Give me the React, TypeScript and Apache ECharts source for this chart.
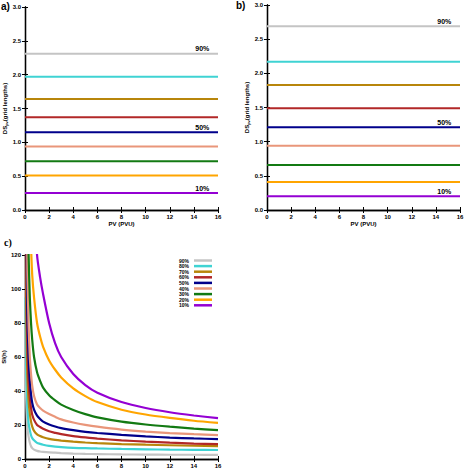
import React, { useEffect, useRef } from "react";
import * as echarts from "echarts";

const PCT = ["90%", "80%", "70%", "60%", "50%", "40%", "30%", "20%", "10%"];
const COLORS = ["#c4c4c4", "#3fd3d3", "#b8860b", "#b22828", "#00008b", "#e9967a", "#137a13", "#ffa500", "#9400d3"];

// panel a / b: constant DS per percentile
const DS_A = [2.31, 1.97, 1.64, 1.37, 1.15, 0.94, 0.72, 0.51, 0.25];
const DS_B = [2.69, 2.17, 1.83, 1.49, 1.21, 0.94, 0.66, 0.41, 0.2];
const PV_RANGE = [0, 16];
const LABELLED = ["90%", "50%", "10%"];

// panel c: SI(h) vs PV
const PV_C = [0.05, 0.1, 0.15, 0.2, 0.3, 0.4, 0.5, 0.6, 0.75, 1, 1.25, 1.5, 2, 2.5, 3, 4, 5, 6, 8, 10, 12, 14, 16];
const SI_90 = [60, 35, 24, 18, 13, 9.5, 7.5, 6.4, 5.5, 4.8, 4.4, 4.2, 3.9, 3.7, 3.5, 3.2, 3.0, 2.9, 2.7, 2.6, 2.5, 2.5, 2.4];
const SI_80 = [95, 55, 40, 30, 21, 17, 14, 12.3, 11, 9.5, 8.9, 8.4, 7.7, 7.3, 7.0, 6.6, 6.4, 6.2, 5.9, 5.7, 5.5, 5.4, 5.3];
const SI_70 = [160, 90, 64, 48, 34, 26.5, 22, 19, 16.5, 14.5, 13.5, 12.8, 11.8, 11.2, 10.8, 10.2, 9.7, 9.3, 8.8, 8.4, 8.1, 7.8, 7.6];
const SI_60 = [220, 120, 86, 65, 45, 36, 30, 26, 23, 20, 18.8, 17.8, 16.3, 15.4, 14.6, 13.5, 12.7, 12, 11, 10.2, 9.6, 9.1, 8.8];
const SI_50 = [300, 160, 115, 85, 60, 46, 38, 33, 29, 25.5, 23.5, 22, 20.3, 19.1, 18.2, 17, 16, 15.3, 14.2, 13.3, 12.6, 12.1, 11.7];
const SI_40 = [400, 220, 150, 110, 78, 60, 50, 43, 37, 32, 30, 28.5, 26.5, 24.8, 23.3, 21.5, 20.1, 19, 17.3, 16.1, 15.2, 14.6, 14.1];
const SI_30 = [700, 360, 240, 180, 120, 95, 80, 70, 60, 51, 46, 42, 37.5, 34.5, 32, 28.8, 26.4, 24.5, 22, 20.3, 19, 17.9, 17];
const SI_20 = [1100, 600, 400, 300, 200, 150, 125, 108, 95, 80, 72, 66, 58, 52.5, 48, 41.5, 37, 33.5, 29, 26.2, 24.2, 22.5, 21.2];
const SI_10 = [2000, 1200, 800, 600, 400, 300, 240, 200, 160, 120, 107, 97, 80, 68, 60, 50, 43.5, 39, 33.5, 30, 27.5, 25.6, 24];
const SI_ALL = [SI_90, SI_80, SI_70, SI_60, SI_50, SI_40, SI_30, SI_20, SI_10];

const X_TICKS_MAX = 16;

const tickFont = { fontSize: 6, fontWeight: "bold" as const, color: "#000", fontFamily: "Liberation Sans" };

function valueAxis(opts: any) {
  return {
    type: "value",
    axisLine: { show: true, lineStyle: { color: "#000", width: 1.3 } },
    axisTick: { show: true, inside: true, length: 3, lineStyle: { color: "#000", width: 1 } },
    splitLine: { show: false },
    ...opts,
  };
}

export default function App() {
  const ref = useRef<HTMLDivElement>(null);
  useEffect(() => {
    if (!ref.current) return;
    const chart = echarts.init(ref.current, undefined, { renderer: "svg" });

    const grids = [
      { left: 25, top: 7, width: 193, height: 203 },
      { left: 267, top: 5, width: 193, height: 205 },
      { left: 25, top: 255, width: 193, height: 204 },
    ];

    const xAxes: any[] = [];
    const yAxes: any[] = [];
    grids.forEach((g, gi) => {
      xAxes.push(
        valueAxis({
          gridIndex: gi, position: "bottom", min: 0, max: X_TICKS_MAX, interval: 2,
          axisLabel: { ...tickFont, margin: 4 },
          name: gi < 2 ? "PV (PVU)" : "", nameLocation: "middle", nameGap: 11,
          nameTextStyle: { fontSize: 6, fontWeight: "bold", color: "#000", fontFamily: "Liberation Sans" },
        })
      );
      xAxes.push(
        valueAxis({ gridIndex: gi, position: "top", min: 0, max: X_TICKS_MAX, interval: 2, axisLabel: { show: false } })
      );
      const ymax = gi < 2 ? 3 : 120;
      const yint = gi < 2 ? 0.5 : 20;
      yAxes.push(
        valueAxis({
          gridIndex: gi, position: "left", min: 0, max: ymax, interval: yint,
          axisLabel: { ...tickFont, margin: 4, formatter: (v: number) => (gi < 2 ? v.toFixed(1) : String(v)) },
          name: gi < 2 ? "{n|DS}{s|pv}{n|(grid lengths)}" : "SI(h)",
          nameLocation: "middle", nameGap: gi < 2 ? 16 : 13,
          nameTextStyle: {
            fontSize: 6, fontWeight: "bold", color: "#000", fontFamily: "Liberation Sans",
            rich: {
              n: { fontSize: 6, fontWeight: "bold", fontFamily: "Liberation Sans" },
              s: { fontSize: 4, fontWeight: "bold", fontFamily: "Liberation Sans", verticalAlign: "bottom", padding: [3, 0, 0, 0] },
            },
          },
        })
      );
      yAxes.push(
        valueAxis({ gridIndex: gi, position: "right", min: 0, max: ymax, interval: yint, axisLabel: { show: false } })
      );
    });

    const series: any[] = [];
    [DS_A, DS_B].forEach((ds, pi) => {
      ds.forEach((v, i) => {
        const s: any = {
          type: "line",
          name: "p" + pi + PCT[i],
          xAxisIndex: pi * 2,
          yAxisIndex: pi * 2,
          data: PV_RANGE.map((x) => [x, v]),
          symbol: "none",
          lineStyle: { color: COLORS[i], width: 2 },
          itemStyle: { color: COLORS[i] },
        };
        if (LABELLED.includes(PCT[i])) {
          s.markPoint = {
            symbol: "rect",
            symbolSize: 1,
            itemStyle: { color: "rgba(0,0,0,0)" },
            label: {
              show: true, position: "top", distance: 1, formatter: PCT[i],
              fontSize: 7, fontWeight: "bold", color: "#000", fontFamily: "Liberation Sans",
            },
            data: [{ coord: [14.7, v] }],
          };
        }
        series.push(s);
      });
    });
    SI_ALL.forEach((arr, i) => {
      series.push({
        type: "line",
        name: PCT[i],
        xAxisIndex: 4,
        yAxisIndex: 4,
        data: PV_C.map((x, k) => [x, arr[k]]),
        symbol: "none",
        smooth: 0.25,
        clip: true,
        lineStyle: { color: COLORS[i], width: 2.2 },
        itemStyle: { color: COLORS[i] },
      });
    });

    chart.setOption({
      animation: false,
      backgroundColor: "#fff",
      grid: grids.map((g) => ({ ...g, show: false })),
      xAxis: xAxes,
      yAxis: yAxes,
      legend: {
        data: PCT,
        orient: "vertical",
        right: 257,
        top: 258,
        padding: 0,
        align: "right",
        icon: "rect",
        itemWidth: 18,
        itemHeight: 2.5,
        itemGap: 0.6,
        textStyle: { fontSize: 5, lineHeight: 5, fontWeight: "bold", color: "#000", fontFamily: "Liberation Sans", padding: [0, 0, 0, 0] },
        selectedMode: false,
      },
      graphic: [
        { type: "text", left: 1, top: 1, style: { text: "a)", font: "bold 10px Liberation Sans", fill: "#000" } },
        { type: "text", left: 236, top: 0, style: { text: "b)", font: "bold 10px Liberation Sans", fill: "#000" } },
        { type: "text", left: 4, top: 237, style: { text: "c)", font: "bold 10px Liberation Serif", fill: "#000" } },
      ],
      series,
    });
    return () => chart.dispose();
  }, []);
  return <div ref={ref} style={{ position: "absolute", left: 0, top: 0, width: 469, height: 471 }} />;
}
